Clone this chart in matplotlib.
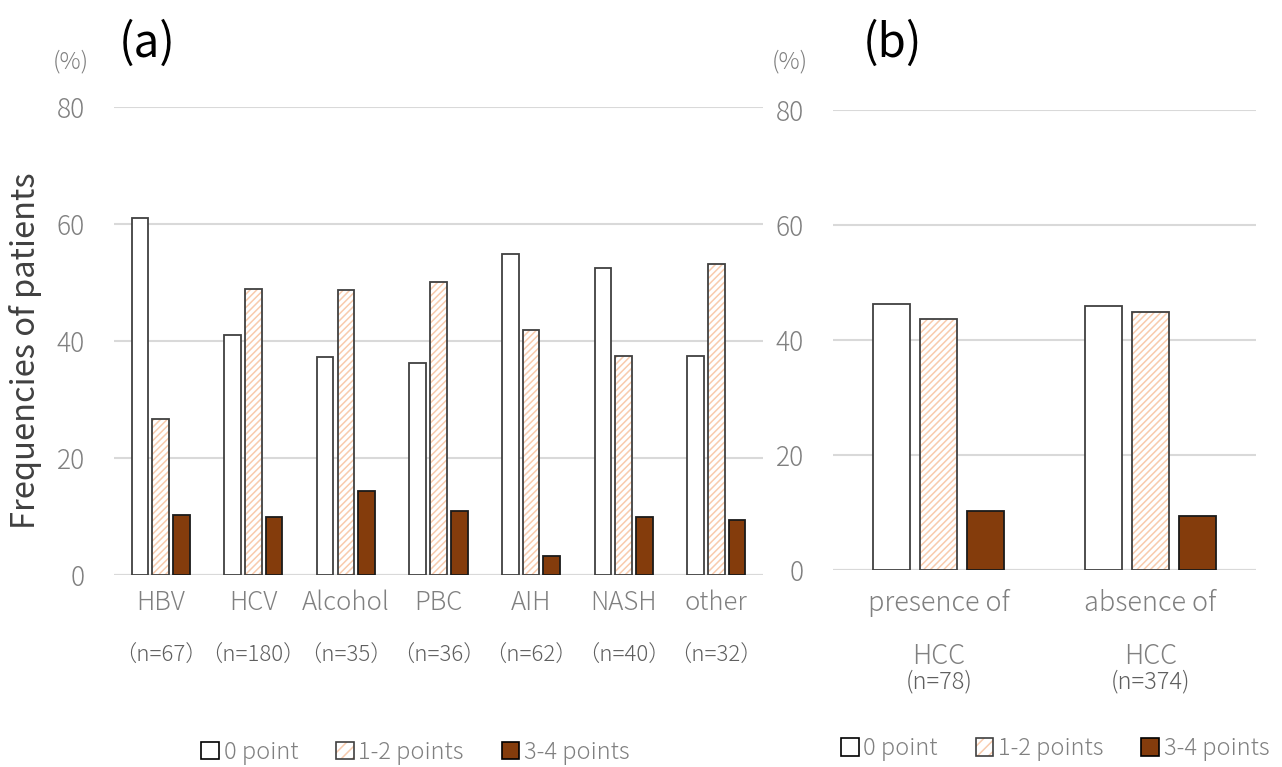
import matplotlib
matplotlib.use("Agg")
import matplotlib.pyplot as plt
from matplotlib.patches import Patch
from matplotlib.legend_handler import HandlerTuple
import numpy as np

plt.rcParams["font.family"] = ["Noto Sans CJK JP", "DejaVu Sans"]
plt.rcParams["font.weight"] = "light"
plt.rcParams["hatch.linewidth"] = 1.1

# (a) etiology
etiology = ["HBV", "HCV", "Alcohol", "PBC", "AIH", "NASH", "other"]
etiology_n = ["（n=67）", "（n=180）", "（n=35）", "（n=36）", "（n=62）", "（n=40）", "（n=32）"]
eti_0pt = [61.1, 41.1, 37.2, 36.2, 54.8, 52.4, 37.4]
eti_12pt = [26.7, 48.9, 48.7, 50.1, 41.9, 37.4, 53.2]
eti_34pt = [10.3, 9.9, 14.3, 11.0, 3.2, 9.9, 9.4]

# (b) HCC
hcc = ["presence of", "absence of"]
hcc_n = ["(n=78)", "(n=374)"]
hcc_0pt = [46.2, 46.0]
hcc_12pt = [43.6, 44.8]
hcc_34pt = [10.3, 9.4]

series_labels = ["0 point", "1-2 points", "3-4 points"]

GRAY = "#808080"
EDGE = "#404040"
PEACH = "#f8cbad"
BROWN = "#843c0c"


def draw_panel(ax, vals, step, width):
    x = np.arange(len(vals[0]))
    v0, v1, v2 = vals
    ax.bar(x - step, v0, width, color="white", edgecolor=EDGE, linewidth=1.3, zorder=3)
    ax.bar(x, v1, width, color="white", edgecolor=PEACH, hatch="/////", linewidth=0, zorder=3)
    ax.bar(x, v1, width, fill=False, edgecolor=EDGE, linewidth=1.3, zorder=4)
    ax.bar(x + step, v2, width, color=BROWN, edgecolor="#1a1a1a", linewidth=1.3, zorder=3)
    ax.set_xlim(-0.5, len(x) - 0.5)
    ax.set_ylim(0, 80)
    ax.set_yticks([0, 20, 40, 60, 80])
    ax.yaxis.grid(True, color="#d9d9d9", linewidth=1.5, zorder=0)
    ax.set_axisbelow(True)
    for s in ax.spines.values():
        s.set_visible(False)
    ax.tick_params(axis="y", length=0, pad=21, labelsize=19, labelcolor=GRAY)
    ax.tick_params(axis="x", length=0)
    ax.set_xticks([])
    ax.axhline(0, color="#d9d9d9", linewidth=1.5, zorder=2)
    return x


def legend_handles():
    h0 = Patch(facecolor="white", edgecolor="black", linewidth=1.2)
    h1a = Patch(facecolor="white", edgecolor=PEACH, hatch="///", linewidth=0)
    h1b = Patch(fill=False, edgecolor=EDGE, linewidth=1.2)
    h2 = Patch(facecolor=BROWN, edgecolor="black", linewidth=1.2)
    return [h0, (h1a, h1b), h2]


fig = plt.figure(figsize=(12.82, 7.67), dpi=100)

ax1 = fig.add_axes([0.0892, 0.2503, 0.5056, 0.6102])
xa = draw_panel(ax1, [eti_0pt, eti_12pt, eti_34pt], 0.224, 0.18)
for i in xa:
    ax1.text(i, -4.8, etiology[i], ha="center", va="center", fontsize=18.5, color=GRAY)
    ax1.text(i, -13.8, etiology_n[i], ha="center", va="center", fontsize=16, color="#5f5f5f")
ax1.set_ylabel("Frequencies of patients", fontsize=23.5, color="#404040")
ax1.yaxis.set_label_coords(-0.112, 0.48)

ax2 = fig.add_axes([0.6498, 0.2568, 0.33, 0.5997])
xb = draw_panel(ax2, [hcc_0pt, hcc_12pt, hcc_34pt], 0.222, 0.175)
for i in xb:
    ax2.text(i, -5.8, hcc[i], ha="center", va="center", fontsize=19.5, color=GRAY)
    ax2.text(i, -14.9, "HCC", ha="center", va="center", fontsize=19.5, color=GRAY)
    ax2.text(i, -19.4, hcc_n[i], ha="center", va="center", fontsize=17, color="#5f5f5f")

fig.text(0.0554, 0.919, "(%)", ha="center", va="center", fontsize=17, color=GRAY)
fig.text(0.616, 0.919, "(%)", ha="center", va="center", fontsize=17, color=GRAY)
fig.text(0.115, 0.943, "(a)", ha="center", va="center", fontsize=33, color="black",
         fontweight="normal")
fig.text(0.696, 0.943, "(b)", ha="center", va="center", fontsize=33, color="black",
         fontweight="normal")

leg_kw = dict(handler_map={tuple: HandlerTuple(ndivide=1)}, frameon=False, ncol=3,
              fontsize=17, labelcolor=GRAY, handlelength=0.75, handleheight=0.75,
              handletextpad=0.2, columnspacing=1.6, borderpad=0)
fig.legend(legend_handles(), series_labels, loc="center", bbox_to_anchor=(0.324, 0.019), **leg_kw)
fig.legend(legend_handles(), series_labels, loc="center", bbox_to_anchor=(0.823, 0.024), **leg_kw)

fig.savefig("out.png", dpi=100)
